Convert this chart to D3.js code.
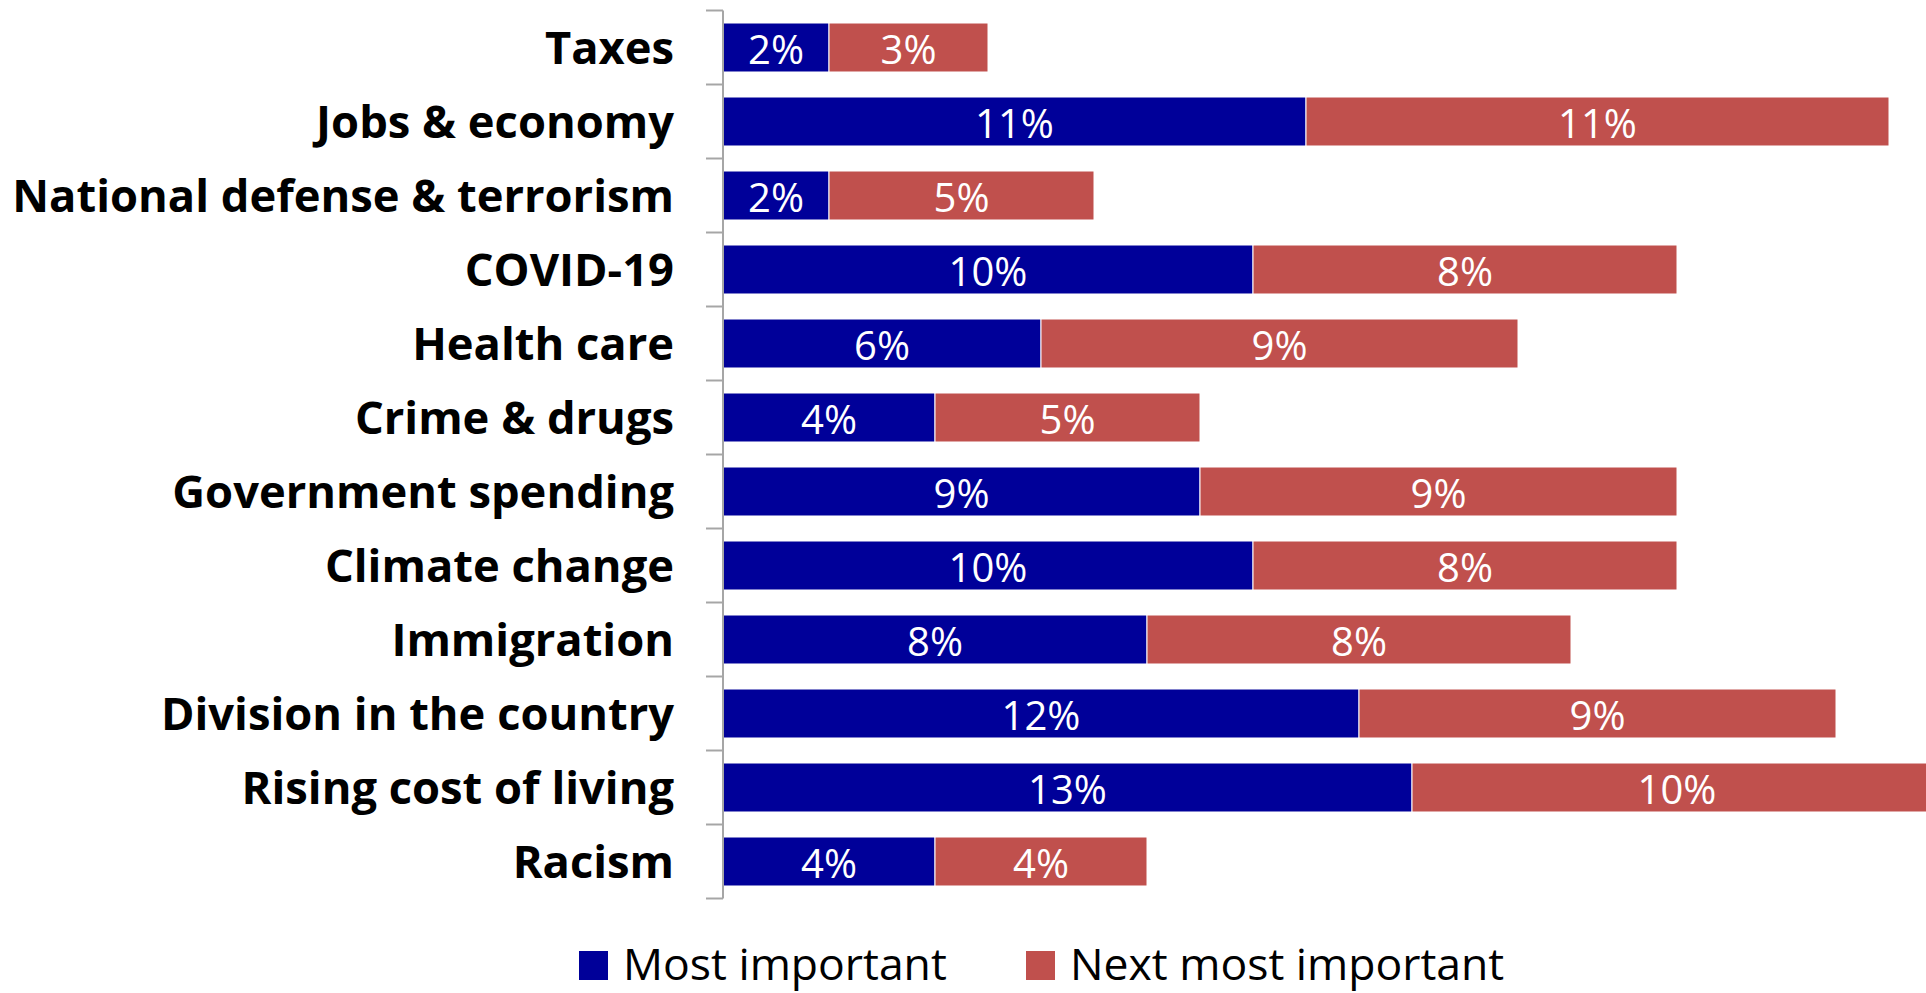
<!DOCTYPE html>
<html>
<head>
<meta charset="utf-8">
<script src="https://cdn.jsdelivr.net/npm/d3@7"></script>
<style>
  html, body { margin: 0; padding: 0; background: #fff; }
  svg { display: block; }
</style>
</head>
<body>
<svg id="chart" width="1926" height="993"></svg>
<script>
// Issue priorities: share naming each issue as most / next most important
const categories = [
  "Taxes",
  "Jobs & economy",
  "National defense & terrorism",
  "COVID-19",
  "Health care",
  "Crime & drugs",
  "Government spending",
  "Climate change",
  "Immigration",
  "Division in the country",
  "Rising cost of living",
  "Racism"
];
const mostImportant     = [0.02, 0.11, 0.02, 0.10, 0.06, 0.04, 0.09, 0.10, 0.08, 0.12, 0.13, 0.04];
const nextMostImportant = [0.03, 0.11, 0.05, 0.08, 0.09, 0.05, 0.09, 0.08, 0.08, 0.09, 0.10, 0.04];
const seriesNames  = ["Most important", "Next most important"];
const seriesColors = ["#000099", "#C0504D"];

const svg = d3.select("#chart");
const width = 1926, height = 993;

const plot = { left: 723, top: 10.5, bottom: 898.5 };

const x = d3.scaleLinear().domain([0, 0.24]).range([plot.left, plot.left + 1272]);
const y = d3.scaleBand().domain(categories).range([plot.top, plot.bottom]).paddingInner(0.338).paddingOuter(0.169);

const rows = categories.map((c, i) => ({ cat: c, vals: [mostImportant[i], nextMostImportant[i]] }));
const stack = d3.stack().keys([0, 1]).value((d, k) => d.vals[k]);
const layers = stack(rows);

const fmt = d3.format(".0%");

// clip so overflowing bars stop at the page edge
svg.append("defs").append("clipPath").attr("id", "clip")
  .append("rect").attr("x", 0).attr("y", 0).attr("width", width).attr("height", height);

const barsG = svg.append("g").attr("clip-path", "url(#clip)");

layers.forEach((layer, k) => {
  const g = barsG.append("g");
  g.selectAll("rect").data(layer).join("rect")
    .attr("x", d => x(d[0]))
    .attr("y", d => y(d.data.cat))
    .attr("width", d => x(d[1]) - x(d[0]))
    .attr("height", y.bandwidth())
    .attr("fill", seriesColors[k])
    .attr("stroke", "#ffffff")
    .attr("stroke-width", 1);

  g.selectAll("text").data(layer).join("text")
    .attr("x", d => (x(d[0]) + x(d[1])) / 2)
    .attr("y", d => y(d.data.cat) + y.bandwidth() / 2)
    .attr("dy", "0.42em")
    .attr("text-anchor", "middle")
    .attr("fill", "#ffffff")
    .attr("font-family", "'Open Sans', 'Noto Sans', sans-serif")
    .attr("font-size", 40)
    .text(d => fmt(d[1] - d[0]));
});

// category axis with tick marks between bands
const axisG = svg.append("g");
axisG.append("line")
  .attr("x1", plot.left).attr("x2", plot.left)
  .attr("y1", plot.top).attr("y2", plot.bottom)
  .attr("stroke", "#a6a6a6").attr("stroke-width", 2);

const step = y.step();
const tickYs = d3.range(categories.length + 1).map(i => plot.top + i * step);
axisG.selectAll("line.tick").data(tickYs).join("line")
  .attr("class", "tick")
  .attr("x1", plot.left - 17).attr("x2", plot.left)
  .attr("y1", d => d).attr("y2", d => d)
  .attr("stroke", "#a6a6a6").attr("stroke-width", 2);

axisG.selectAll("text").data(categories).join("text")
  .attr("x", 674)
  .attr("y", d => y(d) + y.bandwidth() / 2)
  .attr("dy", "0.36em")
  .attr("text-anchor", "end")
  .attr("fill", "#000")
  .attr("font-family", "'Open Sans', 'Noto Sans', sans-serif")
  .attr("font-weight", 700)
  .attr("font-size", 45.3)
  .text(d => d);

// legend
const legendItems = [
  { name: seriesNames[0], color: seriesColors[0], x: 579 },
  { name: seriesNames[1], color: seriesColors[1], x: 1026 }
];
const lg = svg.append("g");
legendItems.forEach(it => {
  lg.append("rect")
    .attr("x", it.x).attr("y", 951)
    .attr("width", 29).attr("height", 29)
    .attr("fill", it.color);
  lg.append("text")
    .attr("x", it.x + 44).attr("y", 979.5)
    .attr("fill", "#000")
    .attr("font-family", "'Open Sans', 'Noto Sans', sans-serif")
    .attr("font-size", 44.5)
    .text(it.name);
});
</script>
</body>
</html>
